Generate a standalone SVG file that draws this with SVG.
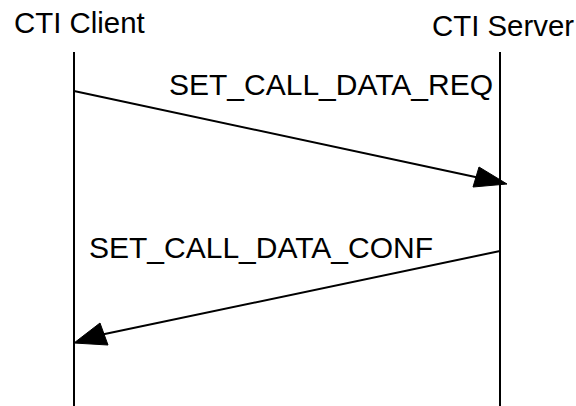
<svg xmlns="http://www.w3.org/2000/svg" width="576" height="406" viewBox="0 0 576 406">
<style>
text{font-family:"Liberation Sans",Arial,sans-serif;font-size:30px;fill:#000}
text.hdr{font-size:29.4px}
.life{stroke:#000;stroke-width:2;fill:none}
.msg{stroke:#000;stroke-width:2;fill:none}
.head{fill:#000;stroke:#000;stroke-width:1}
</style>
<rect width="576" height="406" fill="#fff"/>
<g id="client">
<text class="hdr" x="14" y="33">CTI Client</text>
<line class="life" x1="74" y1="52" x2="74" y2="406"/>
</g>
<g id="server">
<text class="hdr" x="432" y="36">CTI Server</text>
<line class="life" x1="500" y1="52" x2="500" y2="406"/>
</g>
<g id="connectors">
<g id="req">
<line class="msg" x1="74" y1="91" x2="480" y2="178"/>
<polygon class="head" points="507,184 479,167 473,187"/>
<text x="169" y="95">SET_CALL_DATA_REQ</text>
</g>
<g id="conf">
<line class="msg" x1="500" y1="251" x2="100" y2="335"/>
<polygon class="head" points="74,343 100,323 108,345"/>
<text x="89" y="258">SET_CALL_DATA_CONF</text>
</g>
</g>
</svg>
